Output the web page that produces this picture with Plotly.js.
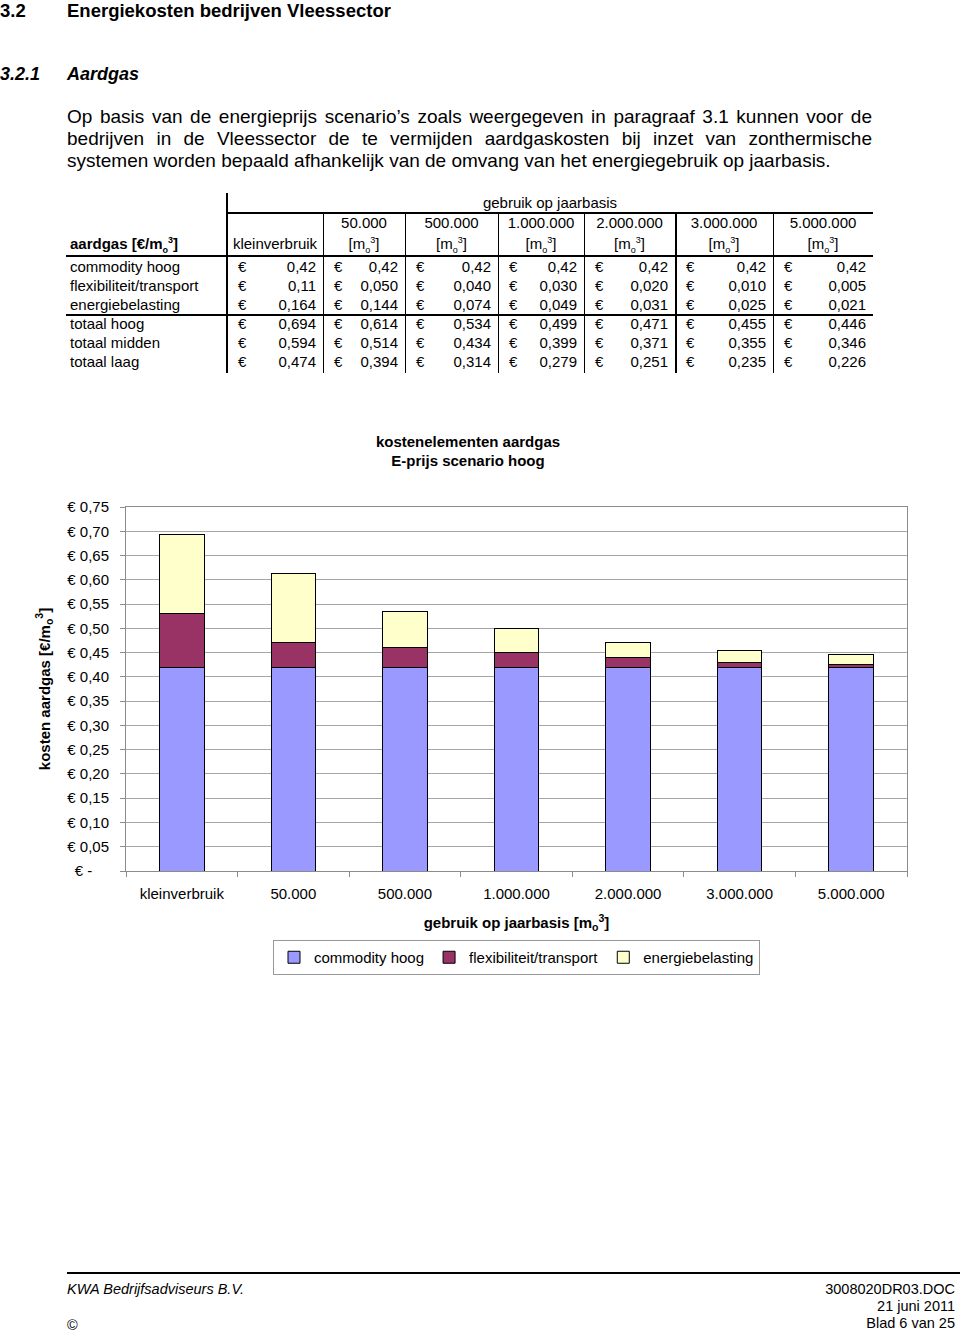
<!DOCTYPE html>
<html>
<head>
<meta charset="utf-8">
<script src="https://cdn.plot.ly/plotly-3.0.1.min.js"></script>
<style>
  body { margin: 0; background: #fff; font-family: "Liberation Sans", Arial, sans-serif; color: #000; }
  #page { position: relative; width: 960px; height: 1335px; overflow: hidden; background: #fff; }
  .abs { position: absolute; white-space: nowrap; }
  .h1 { font-size: 18.5px; font-weight: bold; line-height: 22px; }
  .h2 { font-size: 18px; font-weight: bold; font-style: italic; line-height: 22px; }
  .para { position: absolute; left: 67px; width: 805px; font-size: 19px; line-height: 22px; white-space: nowrap; }
  .just { text-align: justify; text-align-last: justify; }
  .tbl { font-size: 15px; line-height: 18px; }
  .hl { position: absolute; background: #000; }
  .foot { font-size: 14.5px; line-height: 17px; }
  .sb { position: relative; font-size: 9px; }
</style>
</head>
<body>
<div id="page">
  <div class="abs h1" style="left:0;top:0;">3.2</div>
  <div class="abs h1" style="left:67px;top:0;">Energiekosten bedrijven Vleessector</div>
  <div class="abs h2" style="left:0;top:63px;">3.2.1</div>
  <div class="abs h2" style="left:67px;top:63px;">Aardgas</div>

  <div class="para just" style="top:106px;">Op basis van de energieprijs scenario’s zoals weergegeven in paragraaf 3.1 kunnen voor de</div>
  <div class="para just" style="top:128px;">bedrijven in de Vleessector de te vermijden aardgaskosten bij inzet van zonthermische</div>
  <div class="para" style="top:150px;">systemen worden bepaald afhankelijk van de omvang van het energiegebruik op jaarbasis.</div>

  <div id="table"></div>

  <div id="chart" style="position:absolute;left:0;top:420px;width:960px;height:660px;"></div>

  <div class="hl" style="left:67px;top:1272px;width:893px;height:2px;"></div>
  <div class="abs foot" style="left:67px;top:1281px;font-style:italic;">KWA Bedrijfsadviseurs B.V.</div>
  <div class="abs foot" style="right:5px;top:1281px;text-align:right;">3008020DR03.DOC</div>
  <div class="abs foot" style="right:5px;top:1298px;text-align:right;">21 juni 2011</div>
  <div class="abs foot" style="right:5px;top:1315px;text-align:right;">Blad 6 van 25</div>
  <div class="abs foot" style="left:67px;top:1317px;">©</div>
</div>

<script>
// ---- data ----
const categories = ['kleinverbruik', '50.000', '500.000', '1.000.000', '2.000.000', '3.000.000', '5.000.000'];
const commodityHoog = [0.42, 0.42, 0.42, 0.42, 0.42, 0.42, 0.42];
const flexTransport = [0.11, 0.050, 0.040, 0.030, 0.020, 0.010, 0.005];
const energiebelasting = [0.164, 0.144, 0.074, 0.049, 0.031, 0.025, 0.021];
const totaalHoog = [0.694, 0.614, 0.534, 0.499, 0.471, 0.455, 0.446];
const totaalMidden = [0.594, 0.514, 0.434, 0.399, 0.371, 0.355, 0.346];
const totaalLaag = [0.474, 0.394, 0.314, 0.279, 0.251, 0.235, 0.226];
const seriesNames = ['commodity hoog', 'flexibiliteit/transport', 'energiebelasting'];
const yTickVals = [0, 0.05, 0.10, 0.15, 0.20, 0.25, 0.30, 0.35, 0.40, 0.45, 0.50, 0.55, 0.60, 0.65, 0.70, 0.75];
const yTickText = ['€ -\u00a0\u00a0\u00a0\u00a0', '€ 0,05', '€ 0,10', '€ 0,15', '€ 0,20', '€ 0,25', '€ 0,30', '€ 0,35', '€ 0,40', '€ 0,45', '€ 0,50', '€ 0,55', '€ 0,60', '€ 0,65', '€ 0,70', '€ 0,75'];

// ---- table ----
(function buildTable() {
  const host = document.getElementById('table');
  const colX = [227, 323, 405, 498, 584, 675, 773, 873];
  const unit = '[m<span class="sb" style="top:4px">o</span><span class="sb" style="top:-6px">3</span>]';
  function put(html, left, yc, extra) {
    const d = document.createElement('div');
    d.className = 'abs tbl';
    d.style.left = left + 'px';
    d.style.top = (yc - 9) + 'px';
    if (extra) Object.assign(d.style, extra);
    d.innerHTML = html;
    host.appendChild(d);
    return d;
  }
  function line(x, y, w, h) {
    const d = document.createElement('div');
    d.className = 'hl';
    Object.assign(d.style, { left: x + 'px', top: y + 'px', width: w + 'px', height: h + 'px' });
    host.appendChild(d);
  }
  // header
  put('gebruik op jaarbasis', 227, 203, { width: (873 - 227) + 'px', textAlign: 'center' });
  put('<b>aardgas [€/m<span class="sb" style="top:4px">o</span><span class="sb" style="top:-6px">3</span>]</b>', 70, 244);
  categories.forEach((c, i) => {
    const l = colX[i], w = colX[i + 1] - colX[i];
    if (i === 0) {
      put(c, l, 244, { width: w + 'px', textAlign: 'center' });
    } else {
      put(c, l, 223, { width: w + 'px', textAlign: 'center' });
      put(unit, l, 244, { width: w + 'px', textAlign: 'center' });
    }
  });
  const fmt = (v, d) => v.toFixed(d).replace('.', ',');
  const rows = [
    ['commodity hoog', commodityHoog, () => 2, 267],
    ['flexibiliteit/transport', flexTransport, i => (i === 0 ? 2 : 3), 286],
    ['energiebelasting', energiebelasting, () => 3, 305],
    ['totaal hoog', totaalHoog, () => 3, 324],
    ['totaal midden', totaalMidden, () => 3, 343],
    ['totaal laag', totaalLaag, () => 3, 362]
  ];
  rows.forEach(r => {
    put(r[0], 70, r[3]);
    r[1].forEach((v, i) => {
      const l = colX[i], w = colX[i + 1] - colX[i];
      put('<span>€</span><span>' + fmt(v, r[2](i)) + '</span>', l + 11, r[3],
        { width: (w - 18) + 'px', display: 'flex', justifyContent: 'space-between' });
    });
  });
  // lines
  line(226, 193, 2, 180);
  line(227, 212, 646, 2);
  line(66, 255, 807, 2);
  line(66, 314, 807, 2);
  colX.slice(1, -1).forEach((x, i) => line(x, 213, x === 675 ? 2 : 1, 160));
})();

// ---- chart ----
const colors = ['#9999FF', '#993366', '#FFFFCC'];
const values = [commodityHoog, flexTransport, energiebelasting];
const traces = values.map((vals, k) => ({
  type: 'bar',
  name: seriesNames[k],
  x: categories,
  y: vals,
  marker: { color: colors[k], line: { color: '#000', width: 1 } },
  hoverinfo: 'skip'
}));

const axisTitleFont = { size: 15, weight: 700, color: '#000' };
const chartH = 660;
const layout = {
  width: 960, height: chartH,
  margin: { l: 126, r: 53, t: 87, b: chartH - 87 - 364 },
  paper_bgcolor: 'rgba(0,0,0,0)',
  plot_bgcolor: '#ffffff',
  font: { family: '"Liberation Sans", Arial, sans-serif', size: 15, color: '#000' },
  barmode: 'stack',
  bargap: 0.6,
  title: {
    text: 'kostenelementen aardgas<br>E-prijs scenario hoog',
    font: { size: 15, weight: 700, color: '#000' },
    xref: 'container', x: 468 / 960, xanchor: 'center',
    yref: 'container', y: 1 - 26.5 / chartH, yanchor: 'middle'
  },
  xaxis: {
    type: 'category', categoryorder: 'array', categoryarray: categories,
    showline: true, linecolor: '#8c8c8c', linewidth: 1, mirror: true,
    ticks: 'outside', tickson: 'boundaries', ticklen: 5, tickcolor: '#8c8c8c',
    showgrid: false, ticklabelstandoff: 9, automargin: false,
    title: { text: 'gebruik op jaarbasis [m<sub>o</sub><sup>3</sup>]', font: axisTitleFont, standoff: 16 }
  },
  yaxis: {
    range: [0, 0.75], tickmode: 'array', tickvals: yTickVals, ticktext: yTickText,
    showline: true, linecolor: '#8c8c8c', linewidth: 1, mirror: true,
    ticks: 'outside', ticklen: 5, tickcolor: '#8c8c8c',
    gridcolor: '#a6a6a6', zeroline: false, ticklabelstandoff: 8, automargin: false,
    title: { text: 'kosten aardgas [€/m<sub>o</sub><sup>3</sup>]', font: axisTitleFont, standoff: 13 }
  },
  legend: {
    orientation: 'h', x: 0.5, xanchor: 'center', y: -69 / 364, yanchor: 'top',
    bordercolor: '#999', borderwidth: 1, bgcolor: '#fff',
    font: { size: 15, color: '#000' }, itemwidth: 30, traceorder: 'normal'
  },
  showlegend: true
};

Plotly.newPlot('chart', traces, layout, { displayModeBar: false, staticPlot: true });
</script>
</body>
</html>
